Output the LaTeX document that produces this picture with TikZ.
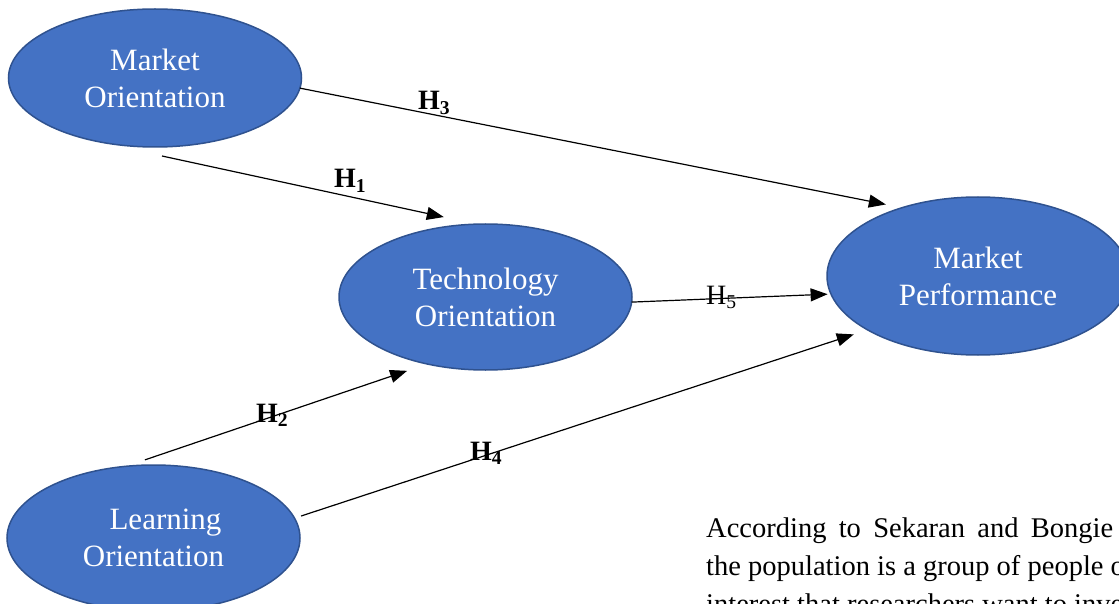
\documentclass[tikz,border=0pt]{standalone}
\usepackage{fontspec}
\setmainfont{Liberation Serif}
\usetikzlibrary{arrows.meta,shapes.geometric,calc}
\definecolor{ellfill}{HTML}{4472C4}
\definecolor{ellborder}{HTML}{2F528F}
\begin{document}
\begin{tikzpicture}[x=1pt,y=-1pt,
  construct/.style={ellipse, draw=ellborder, line width=1.5pt, fill=ellfill, text=white,
    inner sep=0pt, outer sep=0pt, align=center, font=\fontsize{31}{37}\selectfont},
  hyp/.style={-{Triangle[length=17pt,width=13pt]}, line width=1.2pt, draw=black},
  hlabel/.style={anchor=base west, inner sep=0pt, font=\fontsize{28}{30}\selectfont\bfseries},
  body/.style={anchor=base west, inner sep=0pt, font=\fontsize{28.5}{38}\selectfont}]
\useasboundingbox (0,0) rectangle (1119,604);
\clip (0,0) rectangle (1119,604);

% constructs
\node[construct, minimum width=293pt, minimum height=138pt] (mo) at (155,78) {Market\\Orientation};
\node[construct, minimum width=293pt, minimum height=146pt] (to) at (485.5,297) {Technology\\Orientation};
\node[construct, minimum width=302pt, minimum height=158pt] (mp) at (978,276) {Market\\Performance};
\node[construct, minimum width=293pt, minimum height=146pt] (lo) at (153.5,538) {\hspace*{24pt}Learning\\Orientation};

% hypotheses
\draw[hyp, shorten >=16.6pt] (mo.-4) -- (mp.138.9);
\draw[hyp, shorten >=33.5pt] ($(mo.south)+(7,9)$) -- (to.97.7);
\draw[hyp, shorten >=3.4pt] (to.-2.7) -- (mp.187.3);
\draw[hyp, shorten <=20pt, shorten >=21.3pt] (lo.111.7) -- (to.229.5);
\draw[hyp, shorten <=7pt, shorten >=14.5pt] (lo.8.9) -- (mp.206.55);

% labels
\node[hlabel] (l3) at (418,110) {H\textsubscript{3}};
\node[hlabel] (l1) at (334,188) {H\textsubscript{1}};
\node[hlabel, font=\fontsize{28}{30}\selectfont] (l5) at (706,304) {H\textsubscript{5}};
\node[hlabel] (l2) at (256,422) {H\textsubscript{2}};
\node[hlabel] (l4) at (470,460) {H\textsubscript{4}};

% body text
\node[body] (p1) at (706,537) {\makebox[407pt][s]{According to Sekaran and Bongie}};
\node[body] (p2) at (706,575) {the population is a group of people or};
\node[body] (p3) at (706,613) {interest that researchers want to investigate};
\end{tikzpicture}
\end{document}
